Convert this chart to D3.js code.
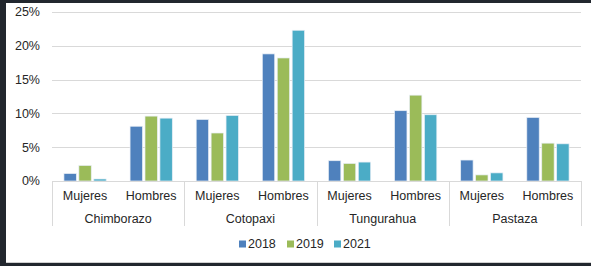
<!DOCTYPE html>
<html>
<head>
<meta charset="utf-8">
<script src="https://cdn.jsdelivr.net/npm/d3@7"></script>
<style>
  html, body { margin: 0; padding: 0; background: #22272e; }
  svg { display: block; }
  text { font-family: "Liberation Sans", Arial, sans-serif; fill: #262626; }
</style>
</head>
<body>
<script>
const provinces = ["Chimborazo", "Cotopaxi", "Tungurahua", "Pastaza"]
const sexes = ["Mujeres", "Hombres"]
const years = ["2018", "2019", "2021"]
const colors = ["#4f81bd", "#9bbb59", "#4bacc6"]
const yTicks = [0, 5, 10, 15, 20, 25]

// values in %, per province then sex, one per year
const v2018 = [1.1, 8.1, 9.1, 18.8, 3.0, 10.4, 3.1, 9.4]
const v2019 = [2.3, 9.6, 7.1, 18.2, 2.6, 12.7, 0.9, 5.6]
const v2021 = [0.3, 9.3, 9.7, 22.3, 2.8, 9.8, 1.2, 5.5]
const series = [v2018, v2019, v2021]

const W = 591, H = 266
const svg = d3.select("body").append("svg")
  .attr("width", W)
  .attr("height", H)

// white panel inside dark frame
svg.append("rect")
  .attr("x", 6).attr("y", 3)
  .attr("width", W - 6).attr("height", 260)
  .attr("fill", "#ffffff")
svg.append("line")
  .attr("x1", 6).attr("x2", W)
  .attr("y1", 262.5).attr("y2", 262.5)
  .attr("stroke", "#d0d0d0")

const plot = { left: 52, right: 581, top: 12, bottom: 181 }

const y = d3.scaleLinear().domain([0, 25]).range([plot.bottom, plot.top])

const cats = []
provinces.forEach(p => sexes.forEach(s => cats.push(p + "|" + s)))

const x0 = d3.scaleBand().domain(cats).range([plot.left, plot.right])
const x1 = d3.scaleBand().domain(years).range([0, x0.bandwidth()])
  .paddingInner(0.17).paddingOuter(0.8)

// gridlines
svg.append("g")
  .selectAll("line")
  .data(yTicks.slice(1))
  .join("line")
  .attr("x1", plot.left).attr("x2", plot.right)
  .attr("y1", d => Math.round(y(d)) + 0.5)
  .attr("y2", d => Math.round(y(d)) + 0.5)
  .attr("stroke", "#d9d9d9")
  .attr("stroke-width", 1)

// y labels
svg.append("g")
  .selectAll("text")
  .data(yTicks)
  .join("text")
  .attr("x", 40)
  .attr("y", d => y(d))
  .attr("dy", "0.35em")
  .attr("text-anchor", "end")
  .attr("font-size", "12.5px")
  .text(d => d + "%")

// bars
const barG = svg.append("g")
cats.forEach((c, i) => {
  years.forEach((yr, j) => {
    const val = series[j][i]
    barG.append("rect")
      .attr("x", x0(c) + x1(yr))
      .attr("y", y(val))
      .attr("width", x1.bandwidth())
      .attr("height", plot.bottom - y(val))
      .attr("fill", colors[j])
      .attr("stroke", "#e8eef6")
      .attr("stroke-width", 0.7)
  })
})

// x axis
const axisBottom = 226
const axisG = svg.append("g").attr("stroke", "#d9d9d9").attr("stroke-width", 1)
axisG.append("line")
  .attr("x1", plot.left).attr("x2", plot.right)
  .attr("y1", plot.bottom + 0.5).attr("y2", plot.bottom + 0.5)

const groupW = (plot.right - plot.left) / provinces.length
const dividers = d3.range(provinces.length + 1).map(i => plot.left + i * groupW)
axisG.selectAll("line.div")
  .data(dividers)
  .join("line")
  .attr("class", "div")
  .attr("x1", d => Math.round(d) + 0.5).attr("x2", d => Math.round(d) + 0.5)
  .attr("y1", plot.bottom).attr("y2", axisBottom)

svg.append("g")
  .selectAll("text")
  .data(cats)
  .join("text")
  .attr("x", d => x0(d) + x0.bandwidth() / 2)
  .attr("y", 200)
  .attr("text-anchor", "middle")
  .attr("font-size", "12.5px")
  .text(d => d.split("|")[1])

svg.append("g")
  .selectAll("text")
  .data(provinces)
  .join("text")
  .attr("x", (d, i) => plot.left + (i + 0.5) * groupW)
  .attr("y", 223)
  .attr("text-anchor", "middle")
  .attr("font-size", "12.5px")
  .text(d => d)

// legend
const legendX = [239, 287, 334]
const leg = svg.append("g")
years.forEach((yr, j) => {
  leg.append("rect")
    .attr("x", legendX[j]).attr("y", 240.5)
    .attr("width", 7).attr("height", 7)
    .attr("fill", colors[j])
  leg.append("text")
    .attr("x", legendX[j] + 9)
    .attr("y", 244)
    .attr("dy", "0.35em")
    .attr("font-size", "12.5px")
    .text(yr)
})
</script>
</body>
</html>
